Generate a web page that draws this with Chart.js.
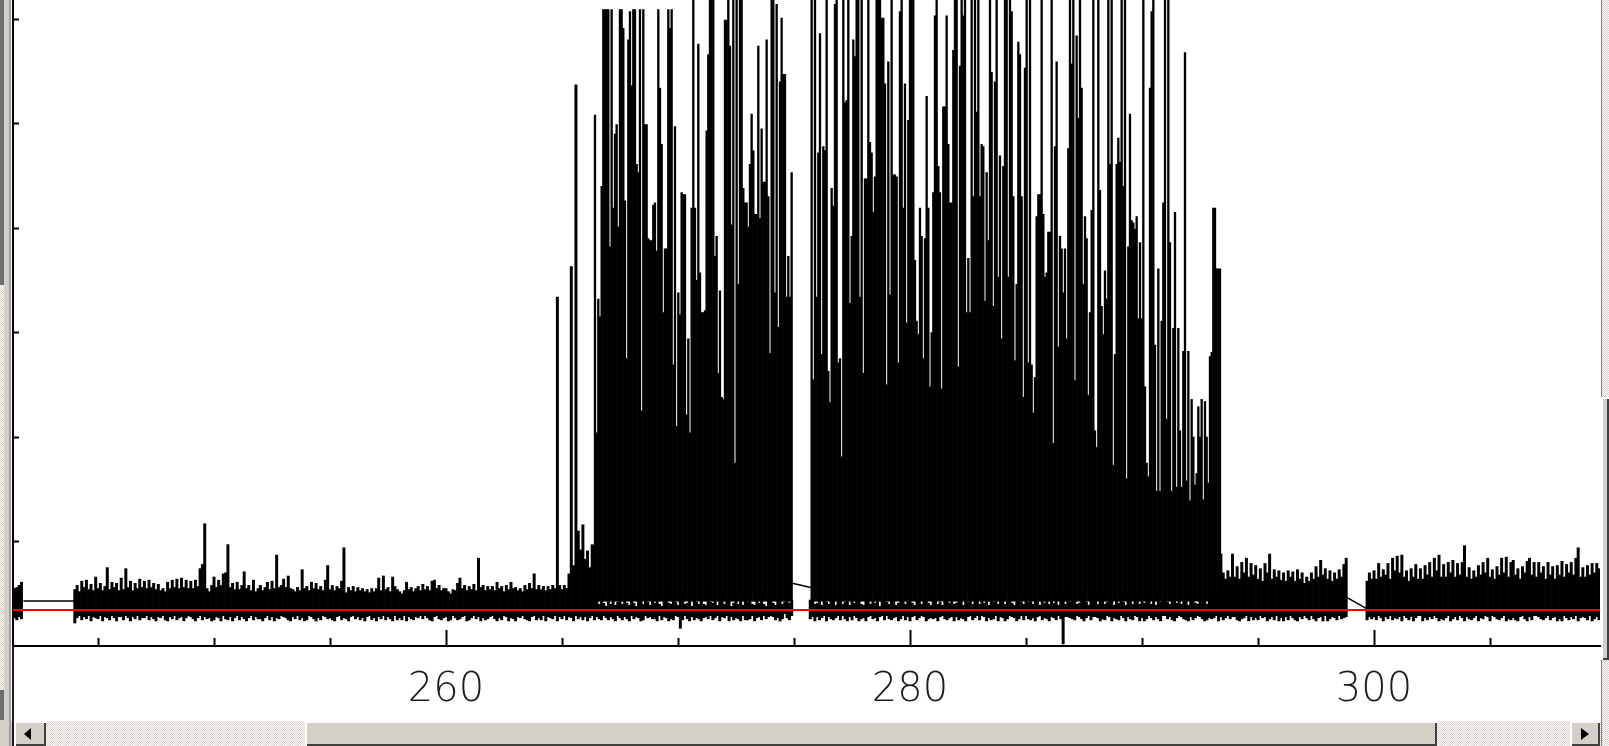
<!DOCTYPE html>
<html>
<head>
<meta charset="utf-8">
<script src="https://cdn.jsdelivr.net/npm/chart.js@4.4.0/dist/chart.umd.min.js"></script>
<style>
html,body{margin:0;padding:0;width:1609px;height:746px;overflow:hidden;background:#d4d0c8;}
#plot{position:absolute;left:0;top:0;width:1609px;height:721px;background:#fff;}
#c{position:absolute;left:0;top:0;}
.chk{background:repeating-conic-gradient(#d4d0c8 0 25%,#ffffff 0 50%) 0 0/2px 2px;}
#lstrip{position:absolute;left:0;top:0;width:11px;height:746px;background:#d4d0c8;}
#lstrip .d1{position:absolute;left:0;top:0;width:4px;height:285px;background:#6e6e6e;}
#lstrip .c1{position:absolute;left:0;top:285px;width:4px;height:405px;}
#lstrip .d2{position:absolute;left:0;top:690px;width:4px;height:30px;background:#6e6e6e;}
#lstrip .e{position:absolute;left:9px;top:0;width:2px;height:746px;background:#a0a0a0;}
#vline{position:absolute;left:12px;top:646px;width:2px;height:100px;background:#1a1a1a;}
#rstrip{position:absolute;left:1601px;top:0;width:8px;height:746px;}
#rstrip .b{position:absolute;left:0;top:397px;width:8px;height:263px;background:#d4d0c8;box-shadow:inset 2px 2px #fff,inset -2px -2px #404040;}
#rstrip .l{position:absolute;left:0;top:0;width:1px;height:746px;background:#808080;}
#hs{position:absolute;left:14px;top:721px;width:1587px;height:25px;}
#hs .btn{position:absolute;top:0;height:25px;background:#d4d0c8;box-shadow:inset 2px 2px #fff,inset -2px -2px #404040;}
.tl{position:absolute;left:10px;top:7px;width:0;height:0;border-top:6.5px solid transparent;border-bottom:6.5px solid transparent;border-right:7px solid #000;}
.tr{position:absolute;left:11px;top:7px;width:0;height:0;border-top:6.5px solid transparent;border-bottom:6.5px solid transparent;border-left:8px solid #000;}
</style>
</head>
<body>
<div id="plot"><canvas id="c" width="1609" height="721"></canvas></div>
<div id="lstrip"><div class="d1"></div><div class="c1 chk"></div><div class="d2"></div><div class="e"></div></div>
<div id="vline"></div>
<div id="rstrip" class="chk"><div class="l"></div><div class="b"></div></div>
<div id="hs" class="chk">
  <div class="btn" style="left:0;width:32px"><div class="tl"></div></div>
  <div class="btn" style="left:291px;width:1132px"></div>
  <div class="btn" style="left:1556px;width:30px"><div class="tr"></div></div>
</div>
<script>
// ---- axis ranges / ticks ----
const xMin = 241.336, xMax = 309.74;
const yMax = 618.2;
const majorTicks = [260, 280, 300];
const minorTicks = [245, 250, 255, 265, 270, 275, 285, 290, 295, 305];
const yTicks = [100, 200, 300, 400, 500, 600];
const thresholdLevel = 34.5;

// ---- baseline noise: one min/max pair per 0.1 time unit, starting at 241.0 ----
const noiseStart = 241.0, noiseStep = 0.1;
const noiseHigh = [
null,null,null,null,55,56,58,61,null,null,            // 241
null,null,null,null,null,null,null,null,null,null,    // 242
null,null,null,null,null,null,null,null,null,null,    // 243
54,58,52,62,56,63,54,59,53,66,   // 244
55,60,53,57,75,54,61,56,60,53,   // 245
65,54,74,56,62,53,60,55,64,56,   // 246
62,55,63,56,60,54,59,53,55,52,   // 247
61,55,63,56,64,55,65,56,63,55,   // 248
62,55,63,57,74,78,117,55,52,58,  // 249
66,56,63,58,69,70,97,56,60,54,   // 250
61,54,58,71,55,58,53,63,52,55,   // 251
58,53,56,61,54,62,55,87,56,58,   // 252
64,56,67,55,54,52,56,53,73,55,   // 253
57,53,61,55,60,54,57,53,63,77,   // 254
54,58,53,57,55,62,94,51,56,53,   // 255
57,52,56,53,55,52,54,51,55,52,   // 256
55,65,53,67,54,56,52,66,57,54,   // 257
52,50,53,61,54,56,52,55,57,53,   // 258
59,54,57,53,62,63,55,58,53,55,   // 259
55,52,50,54,53,60,65,55,58,53,   // 260
57,54,59,53,84,56,58,53,57,54,   // 261
57,53,61,55,57,52,58,54,61,55,   // 262
56,53,55,52,58,54,60,55,69,54,   // 263
58,54,57,53,57,54,58,55,334,58,  // 264
54,58,55,69,363,77,537,110,92,116, // 265
83,91,75,97,96,45,40,52,41,38,   // 266
44,40,55,39,42,47,40,53,41,39,   // 267
48,41,38,50,43,40,54,42,39,46,   // 268
41,52,40,38,45,55,41,40,49,42,   // 269
39,44,53,40,41,48,38,51,42,40,   // 270
46,40,39,55,42,41,50,39,44,52,   // 271
40,43,49,38,41,54,40,45,39,48,   // 272
42,51,40,39,47,41,53,40,38,45,   // 273
50,41,39,46,52,40,42,55,41,44,   // 274
null,null,null,null,null,null,null,44,52,40, // 275
41,48,39,54,42,40,45,51,39,43,   // 276
53,40,42,47,39,50,41,44,55,40,   // 277
39,46,52,40,43,41,49,38,45,54,   // 278
42,40,47,53,39,41,50,44,40,46,   // 279
55,41,39,45,52,40,43,48,41,39,   // 280
47,54,40,42,39,50,45,41,53,40,   // 281
41,44,51,39,46,42,55,40,43,48,   // 282
40,52,41,45,39,53,42,47,40,44,   // 283
49,40,43,54,41,39,46,51,42,40,   // 284
45,42,50,40,55,43,39,47,41,52,   // 285
40,46,41,53,39,44,48,40,54,42,   // 286
43,50,40,41,47,55,42,39,45,51,   // 287
52,40,45,48,40,42,53,44,39,47,   // 288
41,55,42,39,46,50,40,43,52,40,   // 289
44,41,49,53,40,45,39,51,42,46,   // 290
50,42,40,44,54,41,47,40,43,55,   // 291
39,47,52,41,40,48,43,53,40,45,   // 292
48,52,45,50,88,70,64,72,66,88,   // 293
66,76,64,80,70,84,66,79,68,77,   // 294
64,74,62,79,70,88,64,73,66,72,   // 295
63,70,62,72,66,71,62,73,64,70,   // 296
60,66,62,70,64,76,66,82,68,74,   // 297
64,72,62,70,64,73,66,78,84,null, // 298
null,null,null,null,null,null,null,62,70,64, // 299
72,64,79,66,73,68,79,64,84,72,   // 300
86,70,87,66,72,62,74,66,78,64,   // 301
74,64,77,68,80,66,84,72,87,66,   // 302
78,66,80,70,82,66,79,68,80,96,   // 303
66,75,64,72,66,77,68,80,70,84,   // 304
66,73,64,76,68,84,70,85,66,80,   // 305
82,68,74,64,76,70,81,84,68,80,   // 306
66,80,70,76,64,80,68,76,64,77,   // 307
68,81,66,78,70,80,68,84,94,66,   // 308
75,66,77,68,79,70,79,74,null,null // 309
];
const noiseLow = [
null,null,null,null,27,25,28,26,null,null,            // 241
null,null,null,null,null,null,null,null,null,null,    // 242
null,null,null,null,null,null,null,null,null,null,    // 243
22,27,29,25,28,26,29,24,28,27,   // 244
26,29,24,28,27,25,29,27,24,28,   // 245
28,25,29,27,24,28,26,29,25,27,   // 246
27,29,25,28,26,24,28,27,29,25,   // 247
24,28,26,29,25,27,28,24,27,29,   // 248
28,26,24,27,29,25,28,26,27,24,   // 249
25,28,27,24,29,26,25,28,24,27,   // 250
29,25,28,26,24,27,29,25,28,26,   // 251
26,24,27,29,25,28,24,27,26,29,   // 252
28,27,25,24,28,26,29,25,27,24,   // 253
25,29,28,26,24,27,25,29,28,26,   // 254
27,25,24,28,29,25,27,26,24,28,   // 255
29,26,28,25,27,24,28,29,25,27,   // 256
24,28,26,29,25,28,26,24,29,25,   // 257
27,25,29,24,28,26,25,28,27,29,   // 258
26,29,27,25,24,28,29,26,25,27,   // 259
28,24,25,29,27,25,26,28,29,24,   // 260
25,27,29,26,28,24,27,25,26,28,   // 261
29,26,24,27,25,29,28,24,27,26,   // 262
24,28,27,29,26,25,24,28,29,25,   // 263
27,25,29,24,28,27,26,29,24,28,   // 264
26,29,25,28,27,24,29,26,28,25,   // 265
28,24,27,29,25,28,26,25,29,27,   // 266
25,28,26,24,29,27,25,28,26,24,   // 267
29,26,28,27,24,25,29,27,28,26,   // 268
26,24,29,25,28,27,24,26,25,29,   // 269
28,17,25,29,26,24,28,25,27,26,   // 270
24,27,28,26,29,25,27,29,24,28,   // 271
27,29,24,28,25,27,26,24,29,25,   // 272
25,26,29,24,27,28,25,29,26,28,   // 273
29,28,25,27,24,26,31,27,25,29,   // 274
null,null,null,null,null,null,null,26,28,24, // 275
28,25,27,29,24,28,26,25,27,29,   // 276
25,29,26,24,28,25,29,27,24,26,   // 277
27,24,28,29,26,27,24,28,29,25,   // 278
29,26,25,27,28,24,26,29,25,28,   // 279
24,28,29,25,27,29,28,24,26,27,   // 280
26,27,24,28,29,26,25,27,28,24,   // 281
28,25,27,26,24,28,29,25,27,29,   // 282
25,29,28,24,27,25,26,29,24,28,   // 283
27,24,26,29,28,27,24,26,29,25,   // 284
29,26,25,27,24,28,29,25,27,26,   // 285
24,28,27,25,29,26,2,28,28,27,    // 286
26,25,29,28,26,24,27,29,25,28,   // 287
28,27,24,26,25,29,28,24,27,26,   // 288
25,29,27,24,28,26,25,29,28,24,   // 289
27,24,26,29,27,25,28,26,24,29,   // 290
29,26,28,25,24,27,29,28,26,25,   // 291
24,28,25,27,29,28,26,24,25,27,   // 292
26,27,29,24,28,25,27,29,26,28,   // 293
28,25,24,26,27,29,24,28,25,27,   // 294
25,29,27,28,24,26,28,25,29,24,   // 295
27,24,28,25,29,27,25,24,28,26,   // 296
29,27,25,29,26,24,27,28,24,29,   // 297
24,26,28,27,25,29,26,27,28,null, // 298
null,null,null,null,null,null,null,25,28,26, // 299
28,25,29,27,24,28,26,29,25,27,   // 300
26,28,24,29,27,25,28,24,27,29,   // 301
29,24,27,25,28,26,29,27,24,26,   // 302
25,27,29,24,26,28,25,29,27,24,   // 303
28,26,25,27,29,24,27,26,29,28,   // 304
24,29,28,26,25,27,29,24,26,25,   // 305
27,25,24,28,29,26,24,28,25,29,   // 306
29,28,26,25,27,29,25,27,28,24,   // 307
26,24,29,27,25,28,26,29,24,27,   // 308
28,27,25,29,24,26,28,25,null,null // 309
];

// ---- burst envelope: column maxima every 0.07184 time units from 266.42 ----
const burstStart = 266.4207, burstStep = 0.07184;
const burstFloor = 43;
const burstHigh = [
508,204,332,315,440,609,609,609,609,382,
609,419,490,499,401,609,609,591,426,275,
580,607,536,609,609,461,453,609,225,609,
499,499,390,388,388,422,424,378,609,534,
480,319,380,380,609,591,609,269,497,210,
338,317,434,432,432,221,294,204,419,640,
419,350,576,357,319,319,321,493,566,640,
640,640,373,392,261,340,238,236,599,599,
640,574,403,640,175,640,346,640,640,438,
424,424,401,461,509,474,413,413,574,409,
495,444,444,580,430,280,640,640,338,614,
305,540,601,547,547,334,373,334,453,null,
null,null,null,null,null,null,null,null,null,null,
640,255,640,334,472,586,279,478,474,640,
263,233,438,421,614,640,271,275,181,640,
520,522,640,328,392,580,564,640,640,334,
640,261,447,447,640,482,472,415,449,640,
640,640,601,601,538,250,559,336,640,451,
451,449,271,607,640,419,538,309,503,640,
640,640,369,311,298,419,392,275,390,526,
419,248,300,434,603,640,459,434,246,516,
516,603,480,424,424,570,640,640,267,555,
640,603,640,319,371,319,640,430,640,511,
640,430,480,478,330,453,388,640,549,325,
540,640,353,469,294,459,640,640,353,640,
607,430,273,346,578,566,430,238,553,640,
271,640,269,223,257,411,432,432,640,413,
353,357,396,396,640,194,478,559,286,392,
380,338,380,294,476,640,557,640,254,584,
505,640,534,346,411,390,240,319,417,640,
206,190,640,436,325,298,359,332,640,461,
640,173,279,461,486,463,640,440,640,160,
382,509,407,405,399,411,313,386,313,640,
248,175,162,534,607,640,288,148,361,148,
311,424,640,217,640,386,148,304,415,152,
304,206,152,282,568,158,282,139,236,200,
154,165,229,200,236,140,234,200,156,277,
281,419,419,361,361,361
];

// ---- straight segments drawn across the recording gaps ----
const linkX = [241.78, 243.97, 259.0, 274.93, 275.72, 287.0, 298.86, 299.66];
const linkY = [43, 43, null, 60, 56, null, 46, 36];

// ---- build library tables ----
const noiseBars = [];
noiseHigh.forEach((h, i) => {
  if (h === null || noiseLow[i] === null) return;
  noiseBars.push({ x: noiseStart + i * noiseStep, y: [noiseLow[i], h] });
});
const burstBars = [];
burstHigh.forEach((h, i) => {
  if (h === null) return;
  burstBars.push({ x: burstStart + i * burstStep, y: [burstFloor, h] });
});
const links = linkX.map((x, i) => ({ x: x, y: linkY[i] }));
const threshold = [{ x: xMin, y: thresholdLevel }, { x: xMax, y: thresholdLevel }];

new Chart(document.getElementById('c'), {
  type: 'bar',
  data: {
    datasets: [
      { type: 'line', data: threshold, borderColor: '#ff0000', borderWidth: 2, pointRadius: 0, order: 0 },
      { type: 'line', data: links, borderColor: '#000', borderWidth: 1.5, pointRadius: 0, spanGaps: false, order: 1 },
      { type: 'bar', data: burstBars, backgroundColor: '#000', borderWidth: 0, grouped: false, barThickness: 1.67, order: 2 },
      { type: 'bar', data: noiseBars, backgroundColor: '#000', borderWidth: 0, grouped: false, barThickness: 2.32, order: 3 }
    ]
  },
  options: {
    responsive: false,
    animation: false,
    events: [],
    layout: { padding: { left: 0, right: 9, top: 0, bottom: 0 } },
    plugins: { legend: { display: false }, tooltip: { enabled: false } },
    scales: {
      x: {
        type: 'linear', position: 'bottom', min: xMin, max: xMax, offset: false, weight: 1,
        afterBuildTicks: s => { s.ticks = majorTicks.map(v => ({ value: v })); },
        afterFit: s => { s.height = 75; },
        grid: { offset: false, drawOnChartArea: false, drawTicks: true, tickLength: -16, tickWidth: 2, tickColor: '#000' },
        border: { display: true, color: '#000', width: 2 },
        ticks: {
          font: { family: "'DejaVu Sans', sans-serif", size: 40, weight: '200' },
          color: '#1e1e1e', padding: 37, maxRotation: 0, autoSkip: false,
          callback: v => String(v)
        }
      },
      xMinor: {
        type: 'linear', position: 'bottom', min: xMin, max: xMax, offset: false, weight: 0,
        afterBuildTicks: s => { s.ticks = minorTicks.map(v => ({ value: v })); },
        afterFit: s => { s.height = 0; },
        grid: { offset: false, drawOnChartArea: false, drawTicks: true, tickLength: -8, tickWidth: 2, tickColor: '#000' },
        border: { display: false },
        ticks: { display: false }
      },
      y: {
        type: 'linear', position: 'left', min: 0, max: yMax,
        afterBuildTicks: s => { s.ticks = yTicks.map(v => ({ value: v })); },
        afterFit: s => { s.width = 13; },
        grid: { drawOnChartArea: false, drawTicks: true, tickLength: -6, tickWidth: 2, tickColor: '#000' },
        border: { display: true, color: '#000', width: 2 },
        ticks: { display: false }
      }
    }
  }
});
</script>
</body>
</html>
